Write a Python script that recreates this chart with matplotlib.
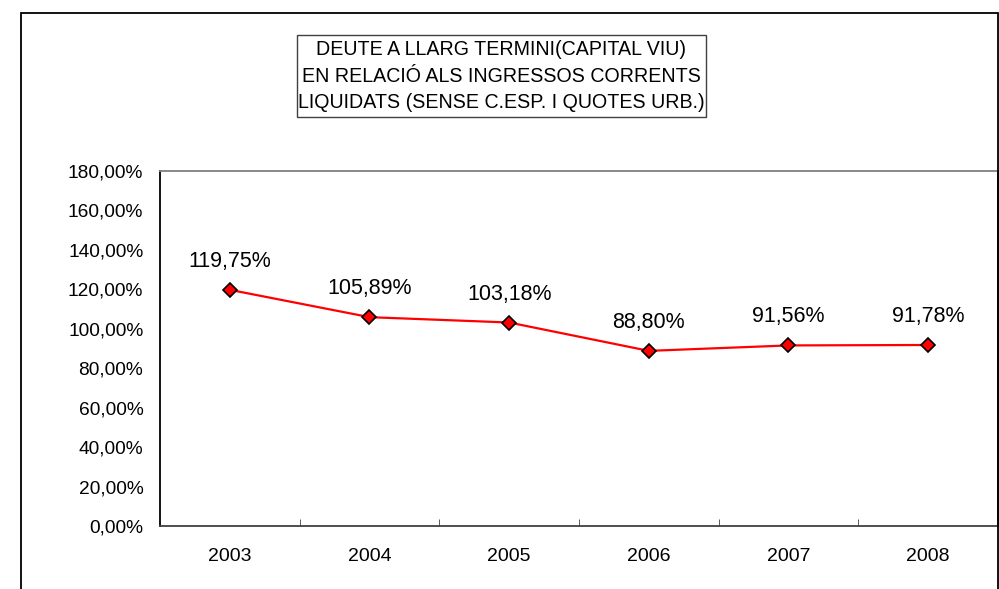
import matplotlib.pyplot as plt
from matplotlib.patches import Rectangle
from matplotlib.ticker import FuncFormatter

# dades
anys = ['2003', '2004', '2005', '2006', '2007', '2008']
percentatges = [119.75, 105.89, 103.18, 88.80, 91.56, 91.78]
titol = ("DEUTE A LLARG TERMINI(CAPITAL VIU)\n"
         "EN RELACIÓ ALS INGRESSOS CORRENTS\n"
         "LIQUIDATS (SENSE C.ESP. I QUOTES URB.)")

plt.rcParams['font.family'] = ['Liberation Sans', 'DejaVu Sans']

W, H = 999, 589
fig = plt.figure(figsize=(W / 100, H / 100), dpi=100)
ax = fig.add_axes([160 / W, 1 - 526 / H, (998 - 160) / W, (526 - 171) / H])

x = range(len(anys))
ax.plot(x, percentatges, color='#ff0000', linewidth=1.6, marker='D', markersize=7,
        markerfacecolor='#ff0000', markeredgecolor='black', markeredgewidth=1.2, zorder=3)

for i, v in enumerate(percentatges):
    ax.annotate(f"{v:.2f}%".replace('.', ','), (i, v), xytext=(0, 20.5),
                textcoords='offset points', ha='center', va='center', fontsize=15.5)

ax.set_xlim(-0.5, len(anys) - 0.5)
ax.set_ylim(0, 180)
ax.set_yticks(range(0, 181, 20))
ax.yaxis.set_major_formatter(FuncFormatter(lambda v, p: f"{v:.2f}%".replace('.', ',')))
ax.tick_params(axis='y', length=0, pad=12, labelsize=13.8)

ax.set_xticks(list(x))
ax.set_xticklabels(anys, fontsize=14)
ax.set_xticks([i + 0.5 for i in range(len(anys) - 1)], minor=True)
ax.tick_params(axis='x', which='major', length=0, pad=15.5)
ax.tick_params(axis='x', which='minor', direction='in', length=5, color='#404040')

ax.spines['left'].set_color('black')
ax.spines['bottom'].set_color('#404040')
ax.spines['top'].set_color('#808080')
ax.spines['right'].set_color('black')
for s in ax.spines.values():
    s.set_linewidth(1.3)

# titol en caixa
fig.patches.append(Rectangle((297 / W, 1 - 117 / H), (706 - 297) / W, (117 - 35) / H,
                             transform=fig.transFigure, facecolor='white',
                             edgecolor='#404040', linewidth=1))
fig.text(501.5 / W, 1 - 76 / H, titol, ha='center', va='center', fontsize=14.1,
         linespacing=1.53)

# marc exterior del grafic
fig.patches.append(Rectangle((21 / W, -0.05), (998 - 21) / W, 1.05 - 13 / H,
                             transform=fig.transFigure, fill=False, edgecolor='black',
                             linewidth=1.3))

fig.savefig('out.png', dpi=100)
